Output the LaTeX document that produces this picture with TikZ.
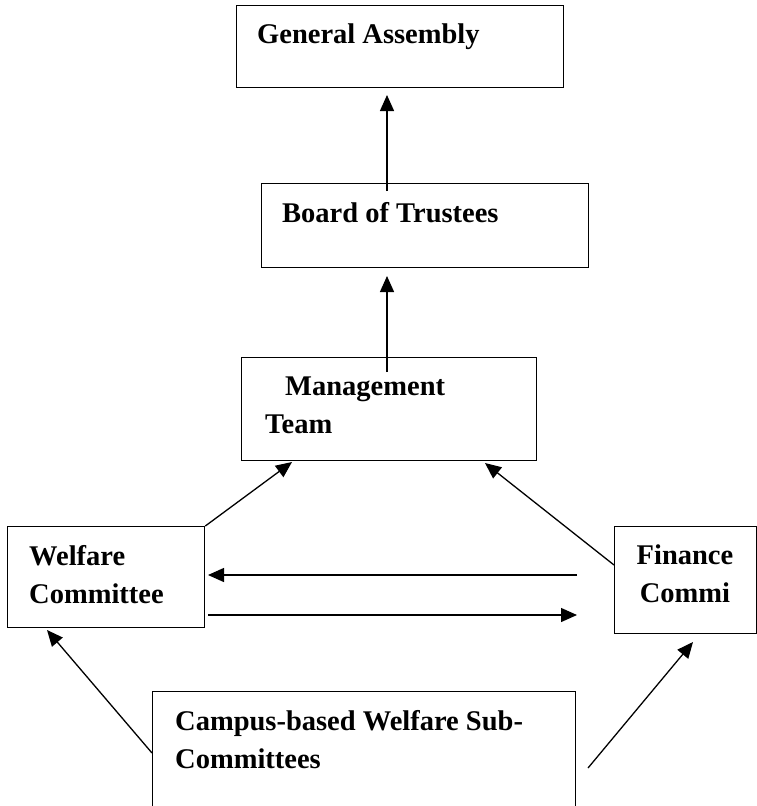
\documentclass[tikz,border=0pt]{standalone}
\usepackage{fontspec}
\setmainfont{Liberation Serif}
\usetikzlibrary{arrows.meta}
\begin{document}
\begin{tikzpicture}[x=1pt,y=-1pt,
 box/.style={draw, line width=1.3pt, rectangle, inner sep=0pt, anchor=north west},
 lbl/.style={anchor=base west, inner sep=0pt, font=\fontsize{28.5}{30}\selectfont\bfseries},
 arr/.style={line width=1.3pt, -{Triangle[length=16pt,width=14pt]}}]
\clip (0,0) rectangle (757,806);
\fill[white] (0,0) rectangle (757,806);

\node[box, minimum width=327pt, minimum height=82pt] (ga) at (236,5) {};
\node[lbl] (gat) at (257,43) {General Assembly};
\node[box, minimum width=327pt, minimum height=84pt] (bot) at (261,183) {};
\node[lbl] (bott) at (282,222) {Board of Trustees};
\node[box, minimum width=295pt, minimum height=103pt] (mt) at (241,357) {};
\node[lbl] (mt1) at (285,395) {Management};
\node[lbl] (mt2) at (265,433) {Team};
\node[box, minimum width=197pt, minimum height=101pt] (wc) at (7,526) {};
\node[lbl] (wc1) at (29,565) {Welfare};
\node[lbl] (wc2) at (29,603) {Committee};
\node[box, minimum width=142pt, minimum height=107pt] (fc) at (614,526) {};
\node[lbl, anchor=base] (fc1) at (685,564) {Finance};
\node[lbl, anchor=base] (fc2) at (685,602) {Commi};
\node[box, minimum width=423pt, minimum height=140pt] (cb) at (152,691) {};
\node[lbl] (cb1) at (175,730) {Campus-based Welfare Sub-};
\node[lbl] (cb2) at (175,768) {Committees};

\coordinate (p1) at (387,191); \coordinate (p2) at (387,95);
\draw[arr] (p1) -- (p2);
\coordinate (p3) at (387,372); \coordinate (p4) at (387,276);
\draw[arr] (p3) -- (p4);
\coordinate (p5) at (292,462);
\draw[arr] (wc.north east) -- (p5);
\coordinate (p6) at (614,565); \coordinate (p7) at (485,463);
\draw[arr] (p6) -- (p7);
\coordinate (p8) at (577,575); \coordinate (p9) at (208,575);
\draw[arr] (p8) -- (p9);
\coordinate (p10) at (208,615); \coordinate (p11) at (577,615);
\draw[arr] (p10) -- (p11);
\coordinate (p12) at (152,753); \coordinate (p13) at (47,630);
\draw[arr] (p12) -- (p13);
\coordinate (p14) at (588,768); \coordinate (p15) at (693,642);
\draw[arr] (p14) -- (p15);
\end{tikzpicture}
\end{document}
